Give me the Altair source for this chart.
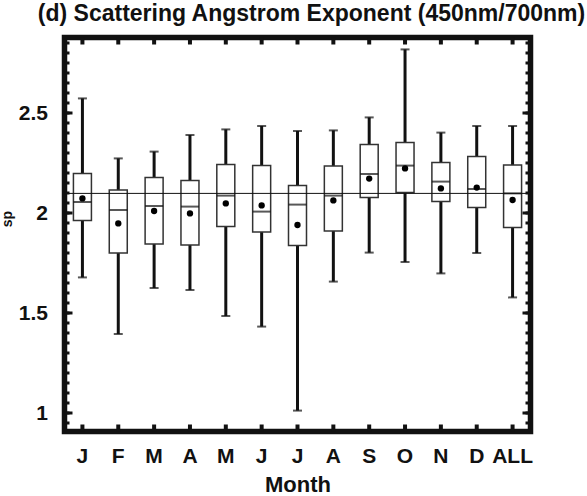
import altair as alt
import pandas as pd

# Monthly box statistics of the scattering Angstrom exponent
month_keys = ["Jan", "Feb", "Mar", "Apr", "May", "Jun", "Jul",
              "Aug", "Sep", "Oct", "Nov", "Dec", "ALL"]
month_labels = ["J", "F", "M", "A", "M", "J", "J", "A", "S", "O", "N", "D", "ALL"]

whisker_high = [2.573, 2.273, 2.307, 2.390, 2.418, 2.435, 2.410, 2.413, 2.478, 2.818, 2.402, 2.435, 2.435]
q3 = [2.198, 2.115, 2.178, 2.162, 2.242, 2.238, 2.138, 2.235, 2.342, 2.352, 2.252, 2.283, 2.240]
median = [2.055, 2.015, 2.035, 2.032, 2.087, 2.007, 2.042, 2.087, 2.195, 2.237, 2.157, 2.120, 2.098]
mean = [2.073, 1.948, 2.010, 1.998, 2.048, 2.038, 1.940, 2.063, 2.172, 2.223, 2.123, 2.127, 2.065]
q1 = [1.963, 1.800, 1.845, 1.840, 1.932, 1.905, 1.838, 1.910, 2.078, 2.103, 2.058, 2.028, 1.928]
whisker_low = [1.678, 1.395, 1.625, 1.615, 1.485, 1.432, 1.012, 1.657, 1.802, 1.755, 1.698, 1.800, 1.578]

y_major = [1.0, 1.5, 2.0, 2.5]
y_minor = [round(0.95 + 0.05 * i, 2) for i in range(39)]

FONT = "Liberation Sans"
INK = "#111111"
W, H = 466, 394

df = pd.DataFrame({
    "month": month_keys,
    "whi": whisker_high, "q3": q3, "med": median,
    "mean": mean, "q1": q1, "wlo": whisker_low,
})
ref_df = pd.DataFrame({"ref": [median[-1]]})
minor_df = pd.DataFrame({"v": y_minor})
major_df = pd.DataFrame({"v": y_major})

label_expr = "[" + ",".join(f"'{l}'" for l in month_labels) + "][indexof([" + \
    ",".join(f"'{k}'" for k in month_keys) + "], datum.value)]"

x_enc = alt.X(
    "month:N",
    scale=alt.Scale(domain=month_keys, paddingInner=0, paddingOuter=0),
    sort=month_keys,
    axis=alt.Axis(
        title="Month", labelExpr=label_expr, labelAngle=0, domain=False, ticks=False,
        labelFont=FONT, labelFontSize=21, labelFontWeight="bold", labelColor=INK,
        labelPadding=14, titleFont=FONT, titleFontSize=22, titleFontWeight="bold",
        titleColor=INK, titlePadding=8,
    ),
)
y_scale = alt.Scale(domain=[0.9075, 2.8775], nice=False, zero=False)
y_axis = alt.Axis(
    values=y_major, format="~g", title="sp", grid=False, domain=False, ticks=False,
    labelFont=FONT, labelFontSize=21, labelFontWeight="bold", labelColor=INK,
    labelPadding=17, titleFont=FONT, titleFontSize=14, titleFontWeight="bold",
    titleColor=INK, titleAngle=270, titleX=-57, titleY=181, titleAlign="center",
    titleBaseline="middle")

base = alt.Chart(df)

whisk_up = base.mark_rule(color=INK, strokeWidth=3).encode(
    x=x_enc, y=alt.Y("q3:Q", scale=y_scale, axis=y_axis, title="sp"), y2="whi:Q")
whisk_dn = base.mark_rule(color=INK, strokeWidth=3).encode(
    x="month:N", y=alt.Y("wlo:Q", title="sp"), y2="q1:Q")
cap_hi = base.mark_tick(color=INK, size=9, thickness=2).encode(
    x="month:N", y=alt.Y("whi:Q", title="sp"))
cap_lo = base.mark_tick(color=INK, size=9, thickness=2).encode(
    x="month:N", y=alt.Y("wlo:Q", title="sp"))
boxes = base.mark_bar(size=18, fillOpacity=0, stroke="#333333", strokeWidth=1.5).encode(
    x="month:N", y=alt.Y("q1:Q", title="sp"), y2="q3:Q")
medians = base.mark_tick(color=INK, size=18, thickness=2).encode(
    x="month:N", y=alt.Y("med:Q", title="sp"))
means = base.mark_circle(color="black", size=40, opacity=1).encode(
    x="month:N", y=alt.Y("mean:Q", title="sp"))

ref_line = alt.Chart(ref_df).mark_rule(color=INK, strokeWidth=1).encode(
    y=alt.Y("ref:Q", title="sp"), x=alt.value(0), x2=alt.value(W))

# inward ticks on the frame
left_minor = alt.Chart(minor_df).mark_rule(color=INK, strokeWidth=3).encode(
    y=alt.Y("v:Q", title="sp"), x=alt.value(0), x2=alt.value(5))
left_major = alt.Chart(major_df).mark_rule(color=INK, strokeWidth=3).encode(
    y=alt.Y("v:Q", title="sp"), x=alt.value(0), x2=alt.value(8))
right_minor = alt.Chart(minor_df).mark_rule(color=INK, strokeWidth=3).encode(
    y=alt.Y("v:Q", title="sp"), x=alt.value(W), x2=alt.value(W - 5))
right_major = alt.Chart(major_df).mark_rule(color=INK, strokeWidth=3).encode(
    y=alt.Y("v:Q", title="sp"), x=alt.value(W), x2=alt.value(W - 8))
top_ticks = base.mark_rule(color=INK, strokeWidth=4).encode(
    x="month:N", y=alt.value(0), y2=alt.value(7))
bottom_ticks = base.mark_rule(color=INK, strokeWidth=4).encode(
    x="month:N", y=alt.value(H), y2=alt.value(H - 7))

chart = alt.layer(
    whisk_up, whisk_dn, cap_hi, cap_lo, boxes, ref_line, medians, means,
    left_minor, left_major, right_minor, right_major, top_ticks, bottom_ticks,
).properties(
    width=W, height=H,
    background="white",
    title=alt.TitleParams(
        "(d) Scattering Angstrom Exponent (450nm/700nm)", font=FONT, fontSize=23,
        fontWeight="bold", color=INK, anchor="middle", dx=14, dy=24, offset=16,
        baseline="alphabetic"),
    autosize=alt.AutoSizeParams(type="none"),
    padding={"left": 64.5, "top": 37.5, "right": 56.5, "bottom": 64.5},
).configure_view(
    stroke=INK, strokeWidth=5.5
)

chart.save("out.html", embed_options={"renderer": "svg", "actions": False})
